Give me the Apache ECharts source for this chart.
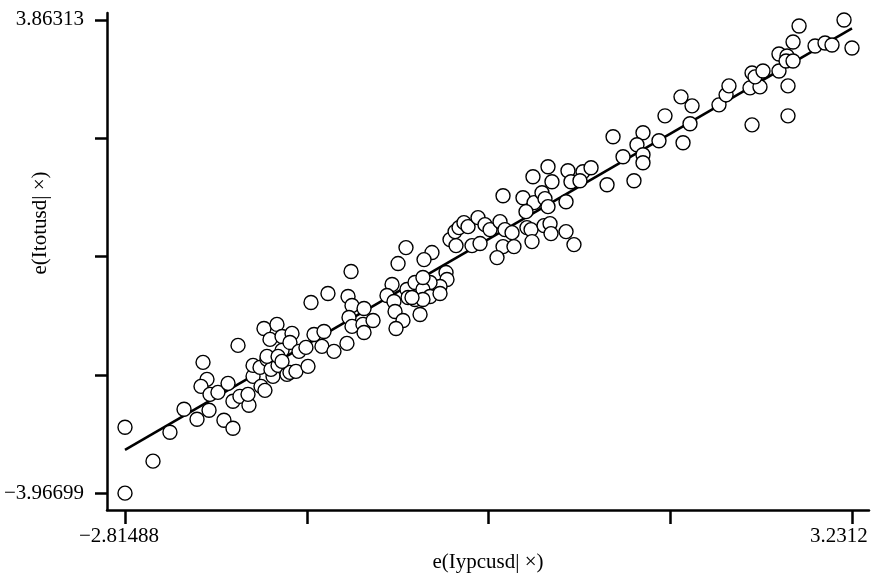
<!DOCTYPE html>
<html>
<head>
<meta charset="utf-8">
<script src="https://cdn.jsdelivr.net/npm/echarts@6/dist/echarts.min.js"></script>
<style>
  html, body { margin: 0; padding: 0; background: #fff; }
  #main { width: 871px; height: 578px; }
</style>
</head>
<body>
<div id="main"></div>
<script>
// residuals
const xVals = [
  -2.81488, -2.582, -2.81488, -2.441, -2.324, -2.216, -2.116, -1.992, -1.917, -2.166,
  -1.875, -2.133, -2.183, -2.108, -2.042, -1.958, -1.917, -1.859, -1.784, -1.792,
  -1.750, -1.750, -1.684, -1.651, -1.692, -1.634, -1.584, -1.601, -1.542, -1.659,
  -1.551, -1.609, -1.509, -1.509, -1.468, -1.426, -1.443, -1.368, -1.634, -1.542,
  -1.443, -1.393, -1.509, -1.310, -1.243, -1.160, -1.177, -1.077, -0.969, -1.293,
  -0.935, -1.127, -1.268, -0.960, -0.927, -0.827, -0.952, -0.927, -0.836, -0.827,
  -0.752, -0.594, -0.636, -0.578, -0.569, -0.503, -0.561, -0.470, -0.403, -0.403,
  -0.361, -0.461, -0.478, -0.544, -0.262, -0.328, -0.145, -0.137, -0.195, -0.278,
  -0.337, -0.278, -0.337, -0.428, -0.337, -0.195, -0.112, -0.062, -0.070, -0.037,
  0.004, 0.038, 0.121, 0.179, 0.221, 0.304, 0.345, 0.404, 0.071, 0.138,
  0.329, 0.420, 0.279, 0.329, 0.495, 0.587, 0.653, 0.520, 0.578, 0.528,
  0.562, 0.570, 0.670, 0.720, 0.728, 0.678, 0.703, 0.703, 0.869, 0.994,
  1.061, 0.736, 0.894, 0.969, 1.194, 0.853, 0.853, 0.919, 1.244, 1.327,
  1.418, 1.493, 1.443, 1.626, 1.493, 1.493, 1.676, 1.809, 1.901, 1.884,
  1.826, 2.125, 2.184, 2.208, 2.400, 2.383, 2.466, 2.400, 2.425, 2.491,
  2.624, 2.624, 2.691, 2.683, 2.741, 2.699, 2.699, 2.741, 2.791, 2.924,
  3.007, 3.065, 3.165, 3.2312
]
const yVals = [
  -2.877, -3.438, -3.96699, -2.959, -2.579, -2.745, -2.596, -2.761, -2.893, -1.803,
  -1.522, -2.084, -2.200, -2.332, -2.299, -2.150, -2.447, -2.365, -2.513, -2.332,
  -2.034, -1.853, -2.200, -2.266, -1.886, -1.754, -2.034, -1.919, -1.853, -1.242,
  -1.175, -1.423, -1.374, -1.605, -2.001, -1.324, -1.473, -1.621, -1.704, -1.704,
  -1.968, -1.952, -1.787, -1.555, -1.341, -1.291, -1.539, -1.621, -1.489, -1.869,
  -0.300, -0.663, -0.812, -0.713, -0.862, -0.911, -1.060, -1.208, -1.175, -1.308,
  -1.109, -0.515, -0.696, -0.796, -0.961, -1.109, -1.242, -0.597, -0.482, -0.763,
  -1.010, -0.729, 0.096, -0.168, 0.014, -0.102, -0.317, -0.432, -0.548, -0.482,
  -0.597, -0.713, -0.763, -0.729, -0.399, -0.663, 0.229, 0.129, 0.361, 0.427,
  0.509, 0.443, 0.592, 0.476, 0.394, 0.526, 0.394, 0.344, 0.129, 0.163,
  0.113, 0.113, -0.069, 0.955, 0.922, 0.840, 1.005, 0.691, 1.269, 0.427,
  0.394, 0.196, 0.460, 0.493, 0.328, 0.906, 0.774, 1.434, 1.368, 1.352,
  1.418, 1.187, 1.187, 1.203, 1.137, 0.856, 0.361, 0.146, 1.930, 1.600,
  1.203, 1.996, 1.798, 1.864, 1.633, 1.500, 2.277, 2.591, 2.442, 2.145,
  1.831, 2.459, 2.624, 2.772, 2.128, 2.739, 2.756, 2.987, 2.921, 3.020,
  3.020, 3.301, 3.268, 3.185, 3.185, 2.772, 2.277, 3.499, 3.763, 3.433,
  3.483, 3.450, 3.86313, 3.400
]
// fitted line ends
const lineX = [-2.81488, 3.2312]
const lineY = [-3.252, 3.725]

// tick positions and labels
const xTicks = [-2.81488, -1.30336, 0.20816, 1.71968, 3.2312]
const yTicks = [-3.96699, -2.00946, -0.05193, 1.9056, 3.86313]
const xLabelVals = [-2.81488, 3.2312]
const xLabelText = ['−2.81488', '3.2312']
const yLabelVals = [-3.96699, 3.86313]
const yLabelText = ['−3.96699', '3.86313']

const xTitle = 'e(Iypcusd| ×)'
const yTitle = 'e(Itotusd| ×)'

const font = 'Liberation Serif'
const myChart = echarts.init(document.getElementById('main'), null, { renderer: 'canvas' })

const points = xVals.map((x, i) => [x, yVals[i]])
const line = lineX.map((x, i) => [x, lineY[i]])

const option = {
  animation: false,
  backgroundColor: '#fff',
  grid: {
    left: 107,
    right: 2,
    top: 13,
    bottom: 67
  },
  xAxis: {
    type: 'value',
    min: -2.9646,
    max: 3.3726,
    name: xTitle,
    nameLocation: 'middle',
    nameGap: 27,
    nameTextStyle: { fontFamily: font, fontSize: 21, color: '#000' },
    axisLine: { onZero: false, lineStyle: { color: '#000', width: 2.5 } },
    axisTick: {
      show: true,
      length: 14,
      customValues: xTicks,
      lineStyle: { color: '#000', width: 2.5 }
    },
    axisLabel: {
      customValues: xLabelVals,
      margin: 16,
      fontFamily: font,
      fontSize: 21,
      color: '#000',
      formatter: (v) => {
        const i = xLabelVals.indexOf(v)
        if (i < 0) return ''
        return (i === 0 ? '{l|' : '{r|') + xLabelText[i] + '}'
      },
      rich: {
        l: { fontFamily: font, fontSize: 21, color: '#000', padding: [0, 12, 0, 0] },
        r: { fontFamily: font, fontSize: 21, color: '#000', padding: [0, 26, 0, 0] }
      }
    },
    splitLine: { show: false }
  },
  yAxis: {
    type: 'value',
    min: -4.2478,
    max: 3.9787,
    axisLine: { onZero: false, lineStyle: { color: '#000', width: 2.5 } },
    axisTick: {
      show: true,
      length: 12,
      customValues: yTicks,
      lineStyle: { color: '#000', width: 2.5 }
    },
    axisLabel: {
      customValues: yLabelVals,
      margin: 23,
      fontFamily: font,
      fontSize: 21,
      color: '#000',
      formatter: (v) => {
        const i = yLabelVals.indexOf(v)
        return i >= 0 ? yLabelText[i] : ''
      }
    },
    splitLine: { show: false }
  },
  graphic: [
    {
      type: 'text',
      x: 40,
      y: 223,
      rotation: Math.PI / 2,
      style: {
        text: yTitle,
        fill: '#000',
        font: '21px "Liberation Serif"',
        align: 'center',
        verticalAlign: 'middle'
      }
    }
  ],
  series: [
    {
      type: 'line',
      data: line,
      symbol: 'none',
      z: 1,
      lineStyle: { color: '#000', width: 2.5 }
    },
    {
      type: 'scatter',
      data: points,
      symbol: 'circle',
      symbolSize: 14,
      z: 2,
      itemStyle: { color: '#fff', borderColor: '#000', borderWidth: 1.4, opacity: 1 }
    }
  ]
}
myChart.setOption(option)
</script>
</body>
</html>
